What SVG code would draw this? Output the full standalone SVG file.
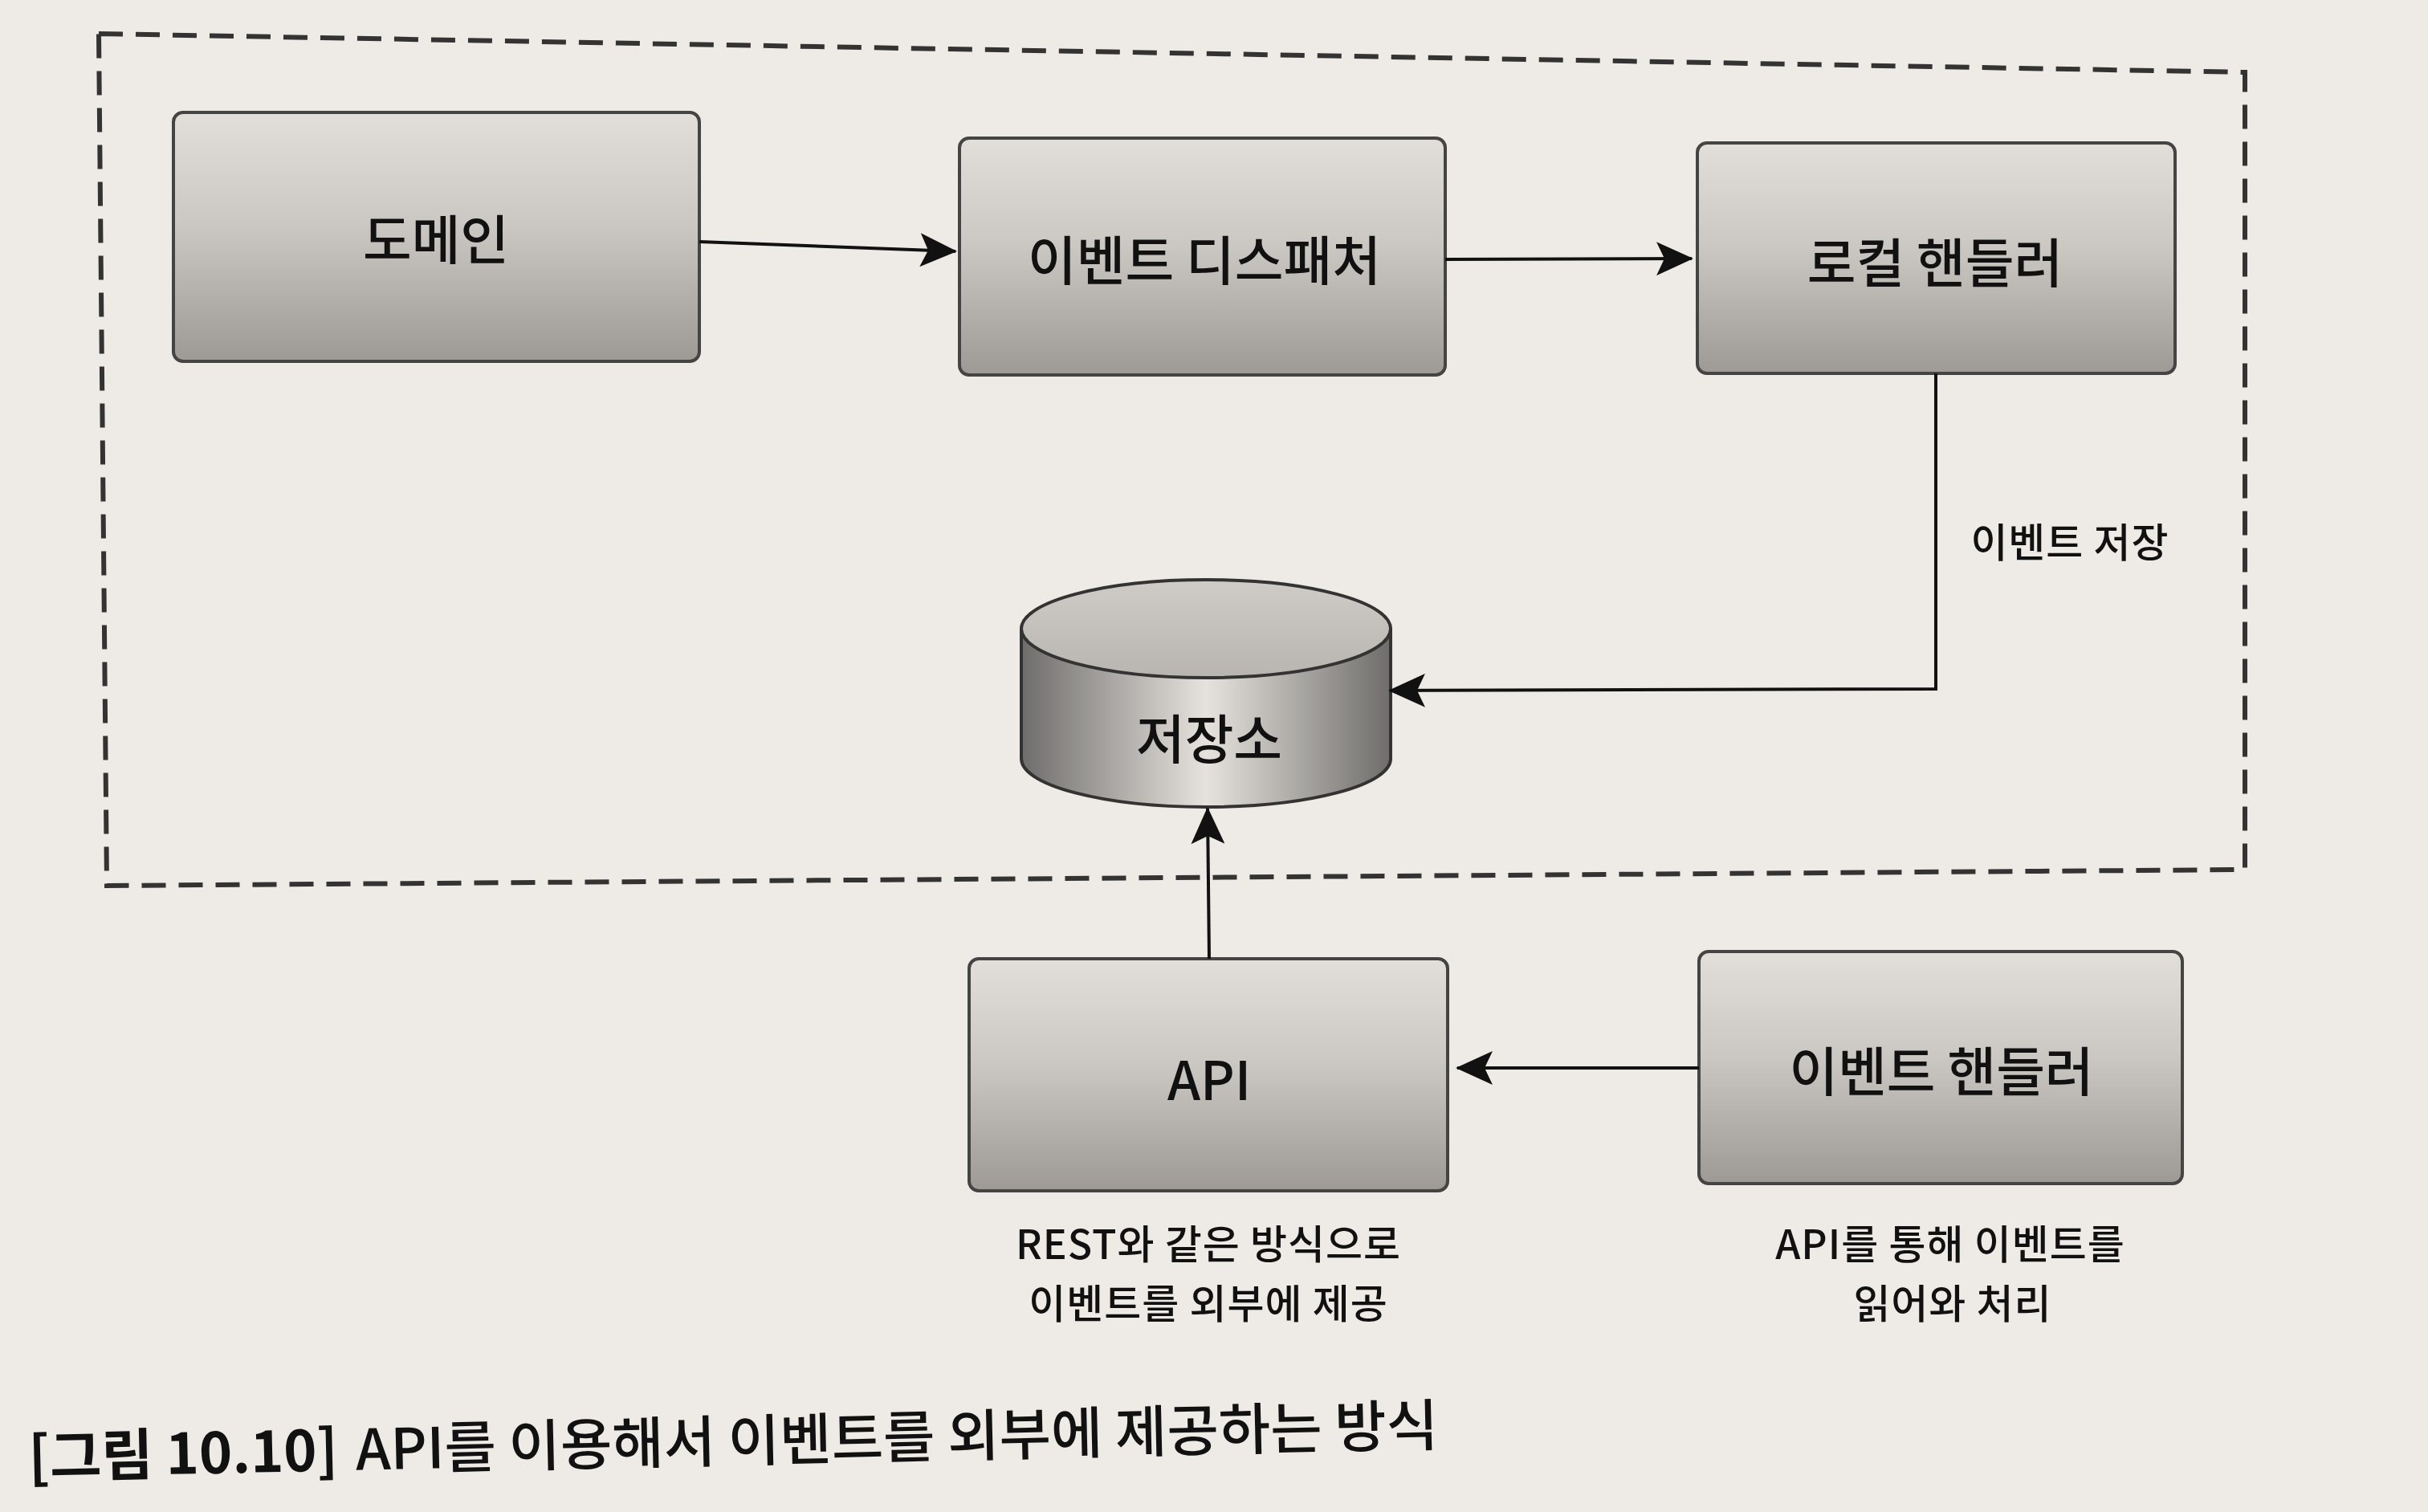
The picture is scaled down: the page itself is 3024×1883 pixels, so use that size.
<svg xmlns="http://www.w3.org/2000/svg" width="3024" height="1883" viewBox="0 0 3024 1883">
<defs>
<linearGradient id="boxg" x1="0" y1="0" x2="0" y2="1">
<stop offset="0" stop-color="#e2dfda"/>
<stop offset="0.45" stop-color="#cbc8c3"/>
<stop offset="1" stop-color="#9d9a96"/>
</linearGradient>
<linearGradient id="cylside" x1="0" y1="0" x2="1" y2="0">
<stop offset="0" stop-color="#6f6d6b"/>
<stop offset="0.5" stop-color="#e6e3de"/>
<stop offset="1" stop-color="#6f6d6b"/>
</linearGradient>
<linearGradient id="cyltop" x1="0" y1="0" x2="0" y2="1">
<stop offset="0" stop-color="#cfccc7"/>
<stop offset="1" stop-color="#b8b5b0"/>
</linearGradient>
<marker id="arr" viewBox="0 0 46 42" refX="44" refY="21" markerWidth="46" markerHeight="42" markerUnits="userSpaceOnUse" orient="auto">
<path d="M0,0 L46,21 L0,42 L10,21 Z" fill="#111"/>
</marker>
<style>
.box{fill:url(#boxg);stroke:#444;stroke-width:4}
.lbl{font-family:"Noto Sans CJK KR","Noto Sans",sans-serif;font-size:66px;font-weight:500;fill:#111;text-anchor:middle;dominant-baseline:central}
.note{font-family:"Noto Sans CJK KR","Noto Sans",sans-serif;font-size:50px;font-weight:500;letter-spacing:1px;fill:#111;text-anchor:middle}
.conn{fill:none;stroke:#111;stroke-width:4;marker-end:url(#arr)}
</style>
</defs>
<rect x="0" y="0" width="3024" height="1883" fill="#eeebe6"/>
<polygon id="boundary" points="123,42 2796,90 2796,1083 133,1103" fill="none" stroke="#333" stroke-width="6" stroke-dasharray="30 16"/>
<g id="domain">
<rect class="box" x="216" y="140" width="655" height="310" rx="12"/>
<text class="lbl" x="543" y="294">도메인</text>
</g>
<g id="dispatcher">
<rect class="box" x="1195" y="172" width="605" height="295" rx="12"/>
<text class="lbl" x="1500" y="320">이벤트 디스패처</text>
</g>
<g id="local-handler">
<rect class="box" x="2114" y="178" width="595" height="287" rx="12"/>
<text class="lbl" x="2410" y="323">로컬 핸들러</text>
</g>
<g id="storage">
<path d="M1272,782 L1272,945 A230,60 0 0 0 1732,945 L1732,782" fill="url(#cylside)" stroke="#333" stroke-width="4"/>
<ellipse cx="1502" cy="783" rx="230" ry="61" fill="url(#cyltop)" stroke="#333" stroke-width="4"/>
<text class="lbl" x="1506" y="916">저장소</text>
</g>
<g id="api">
<rect class="box" x="1207" y="1194" width="596" height="289" rx="12"/>
<text class="lbl" x="1506" y="1341">API</text>
<text class="note" x="1505" y="1568">REST와 같은 방식으로</text>
<text class="note" x="1505" y="1642">이벤트를 외부에 제공</text>
</g>
<g id="event-handler">
<rect class="box" x="2116" y="1185" width="602" height="289" rx="12"/>
<text class="lbl" x="2418" y="1330">이벤트 핸들러</text>
<text class="note" x="2429" y="1568">API를 통해 이벤트를</text>
<text class="note" x="2432" y="1642">읽어와 처리</text>
</g>
<g id="connectors">
<path class="conn" d="M871,301 L1190,313"/>
<path class="conn" d="M1800,323 L2107,322"/>
<path class="conn" d="M2411,465 L2411,858 L1731,860"/>
<text class="note" x="2578" y="694">이벤트 저장</text>
<path class="conn" d="M1506,1194 L1504,1007"/>
<path class="conn" d="M2116,1330 L1815,1330"/>
</g>
<g id="caption" transform="rotate(-1.3 36 1840)">
<text x="36" y="1840" font-family="'Noto Sans CJK KR','Noto Sans',sans-serif" font-size="70" font-weight="500" fill="#111"><tspan font-weight="bold">[그림 10.10]</tspan><tspan dx="22">API를 이용해서 이벤트를 외부에 제공하는 방식</tspan></text>
</g>
</svg>
